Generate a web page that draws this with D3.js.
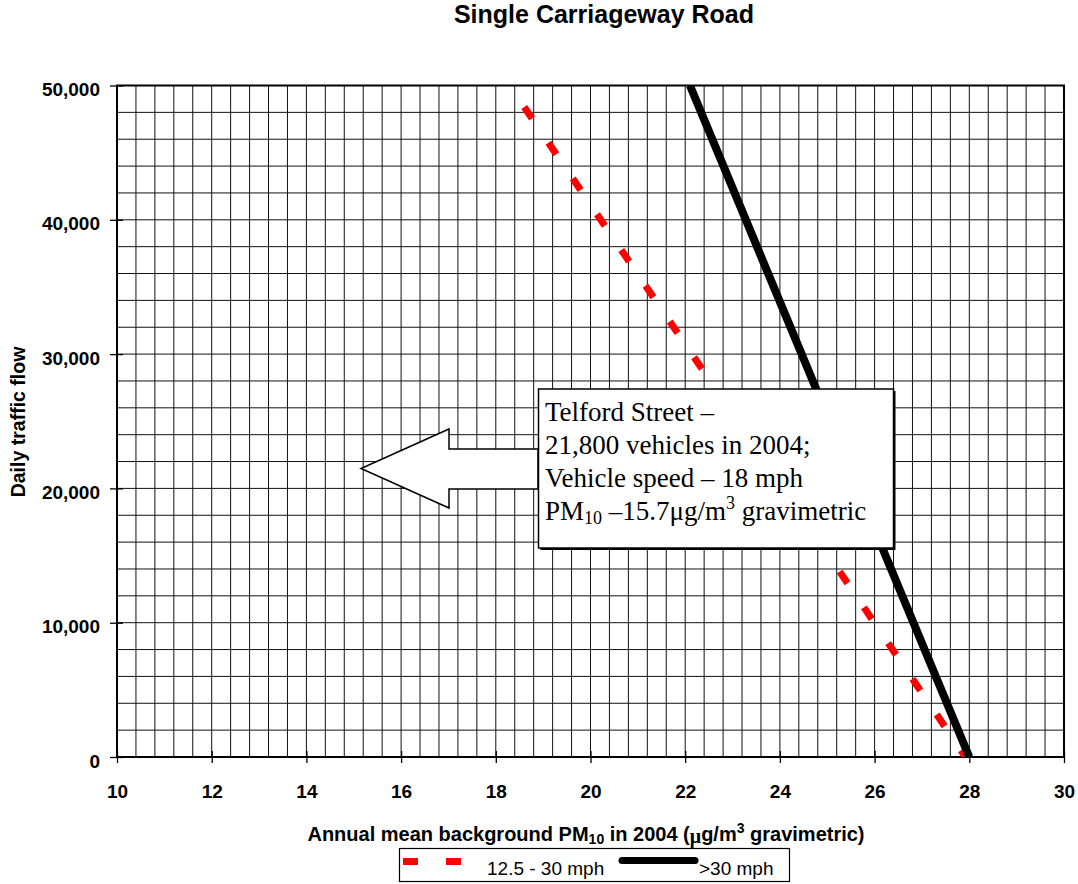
<!DOCTYPE html>
<html>
<head>
<meta charset="utf-8">
<script src="https://cdn.jsdelivr.net/npm/d3@7"></script>
<style>
  body { margin: 0; background: #fff; }
  svg { display: block; }
</style>
</head>
<body>
<div class="chart"></div>
<script>
// chart values
var xTicks = [10, 12, 14, 16, 18, 20, 22, 24, 26, 28, 30];
var yTicks = [0, 10000, 20000, 30000, 40000, 50000];

// 12.5 - 30 mph (red dashed)
var slowFlow = [0, 48400];
var slowPM = [27.92, 18.6];

// >30 mph (black)
var fastFlow = [0, 50000];
var fastPM = [28.0, 22.1];

var calloutLines = [
  "Telford Street \u2013",
  "21,800 vehicles in 2004;",
  "Vehicle speed \u2013 18 mph"
];

var svgWidth = 1078;
var svgHeight = 884;

var margin = {top: 85.5, right: 14, bottom: 127, left: 117};
var width = svgWidth - margin.left - margin.right;
var height = svgHeight - margin.top - margin.bottom;

var sans = "'Liberation Sans', Arial, sans-serif";
var serif = "'Liberation Serif', 'Times New Roman', serif";

var svg = d3.select(".chart")
  .append("svg")
  .attr("width", svgWidth)
  .attr("height", svgHeight);

var chartGroup = svg.append("g")
  .attr("transform", `translate(${margin.left}, ${margin.top})`);

var xScale = d3.scaleLinear().domain([10, 30]).range([0, width]);
var yScale = d3.scaleLinear().domain([0, 50000]).range([height, 0]);

// grid
var xGrid = d3.range(0, 51).map(i => 10 + i * 0.4);
var yGrid = d3.range(0, 26).map(i => i * 2000);

chartGroup.append("g").selectAll("line")
  .data(xGrid)
  .enter()
  .append("line")
  .attr("x1", d => xScale(d)).attr("x2", d => xScale(d))
  .attr("y1", 0).attr("y2", height)
  .attr("stroke", "#111")
  .attr("stroke-width", 1);

chartGroup.append("g").selectAll("line")
  .data(yGrid)
  .enter()
  .append("line")
  .attr("x1", 0).attr("x2", width)
  .attr("y1", d => yScale(d)).attr("y2", d => yScale(d))
  .attr("stroke", "#111")
  .attr("stroke-width", 1);

// border
chartGroup.append("rect")
  .attr("width", width)
  .attr("height", height)
  .attr("fill", "none")
  .attr("stroke", "#000")
  .attr("stroke-width", 2);

// axes
var bottomAxis = d3.axisBottom(xScale).tickValues(xTicks).tickSize(6).tickFormat(d3.format("d"));
var leftAxis = d3.axisLeft(yScale).tickValues(yTicks).tickSize(7).tickFormat(d3.format(","));

var xAxisG = chartGroup.append("g")
  .attr("transform", `translate(0, ${height})`)
  .call(bottomAxis);
xAxisG.select(".domain").remove();
xAxisG.selectAll("line").attr("y1", -6).attr("stroke", "#000").attr("stroke-width", 1.3);
xAxisG.selectAll("text")
  .attr("y", 41).attr("dy", 0)
  .attr("font-family", sans).attr("font-size", "19px").attr("font-weight", "bold")
  .attr("fill", "#000");

var yAxisG = chartGroup.append("g").call(leftAxis);
yAxisG.select(".domain").remove();
yAxisG.selectAll("line").attr("x1", 6).attr("stroke", "#000").attr("stroke-width", 1.3);
yAxisG.selectAll("text")
  .attr("x", -17).attr("y", 10).attr("dy", 0)
  .attr("font-family", sans).attr("font-size", "19px").attr("font-weight", "bold")
  .attr("fill", "#000");

// lines
svg.append("clipPath").attr("id", "plot")
  .append("rect").attr("width", width).attr("height", height);

var line = d3.line()
  .x(d => xScale(d[0]))
  .y(d => yScale(d[1]));

chartGroup.append("path")
  .datum(slowPM.map((v, i) => [v, slowFlow[i]]).reverse())
  .attr("clip-path", "url(#plot)")
  .attr("d", line)
  .attr("fill", "none")
  .attr("stroke", "#ff0000")
  .attr("stroke-width", 7)
  .attr("stroke-dasharray", "14 29.2");

chartGroup.append("path")
  .datum(fastPM.map((v, i) => [v, fastFlow[i]]))
  .attr("clip-path", "url(#plot)")
  .attr("d", line)
  .attr("fill", "none")
  .attr("stroke", "#000")
  .attr("stroke-width", 8);

// title
svg.append("text")
  .attr("x", 604).attr("y", 23)
  .attr("text-anchor", "middle")
  .attr("font-family", sans).attr("font-size", "25px").attr("font-weight", "bold")
  .text("Single Carriageway Road");

// y axis title
svg.append("text")
  .attr("transform", "translate(25, 422) rotate(-90)")
  .attr("text-anchor", "middle")
  .attr("font-family", sans).attr("font-size", "19.5px").attr("font-weight", "bold")
  .text("Daily traffic flow");

// x axis title
var xTitle = svg.append("text")
  .attr("x", 586).attr("y", 841)
  .attr("text-anchor", "middle")
  .attr("font-family", sans).attr("font-size", "20px").attr("font-weight", "bold");
xTitle.append("tspan").text("Annual mean background PM");
xTitle.append("tspan").attr("font-size", "14px").attr("dy", 3).text("10");
xTitle.append("tspan").attr("dy", -3).text(" in 2004 (");
xTitle.append("tspan").attr("font-family", serif).attr("dy", 2).text("\u03bc");
xTitle.append("tspan").attr("dy", -2).text("g/m");
xTitle.append("tspan").attr("font-size", "14px").attr("dy", -8).text("3");
xTitle.append("tspan").attr("dy", 8).text(" gravimetric)");

// callout arrow + box
var callout = svg.append("g");
callout.append("polygon")
  .attr("points", "538,449 449,449 449,429 361,468.5 449,508 449,489 538,489")
  .attr("fill", "#fff")
  .attr("stroke", "#000")
  .attr("stroke-width", 1.5);
callout.append("rect")
  .attr("x", 540.5).attr("y", 391).attr("width", 355).attr("height", 159)
  .attr("fill", "#000");
callout.append("rect")
  .attr("x", 538.5).attr("y", 389).attr("width", 355).attr("height", 159)
  .attr("fill", "#fff")
  .attr("stroke", "#000")
  .attr("stroke-width", 1.5);

callout.selectAll("text.cl")
  .data(calloutLines)
  .enter()
  .append("text")
  .attr("class", "cl")
  .attr("x", 545)
  .attr("y", (d, i) => 421 + i * 33)
  .attr("font-family", serif).attr("font-size", "27px")
  .text(d => d);

var pmLine = callout.append("text")
  .attr("x", 545).attr("y", 520)
  .attr("font-family", serif).attr("font-size", "27px");
pmLine.append("tspan").text("PM");
pmLine.append("tspan").attr("font-size", "18px").attr("dy", 4).text("10");
pmLine.append("tspan").attr("dy", -4).text(" \u201315.7\u03bcg/m");
pmLine.append("tspan").attr("font-size", "18px").attr("dy", -11).text("3");
pmLine.append("tspan").attr("dy", 11).text("  gravimetric");

// legend
var legend = svg.append("g");
legend.append("rect")
  .attr("x", 399.5).attr("y", 848.5).attr("width", 390).attr("height", 33)
  .attr("fill", "#fff").attr("stroke", "#000").attr("stroke-width", 1.2);
legend.append("line")
  .attr("x1", 403).attr("x2", 461).attr("y1", 861.5).attr("y2", 861.5)
  .attr("stroke", "#ff0000").attr("stroke-width", 7)
  .attr("stroke-dasharray", "15 28");
legend.append("text")
  .attr("x", 487).attr("y", 875)
  .attr("font-family", sans).attr("font-size", "19px")
  .text("12.5 - 30 mph");
legend.append("line")
  .attr("x1", 622).attr("x2", 695).attr("y1", 860.5).attr("y2", 860.5)
  .attr("stroke", "#000").attr("stroke-width", 7)
  .attr("stroke-linecap", "round");
legend.append("text")
  .attr("x", 699).attr("y", 875)
  .attr("font-family", sans).attr("font-size", "19px")
  .text(">30 mph");
</script>
</body>
</html>
